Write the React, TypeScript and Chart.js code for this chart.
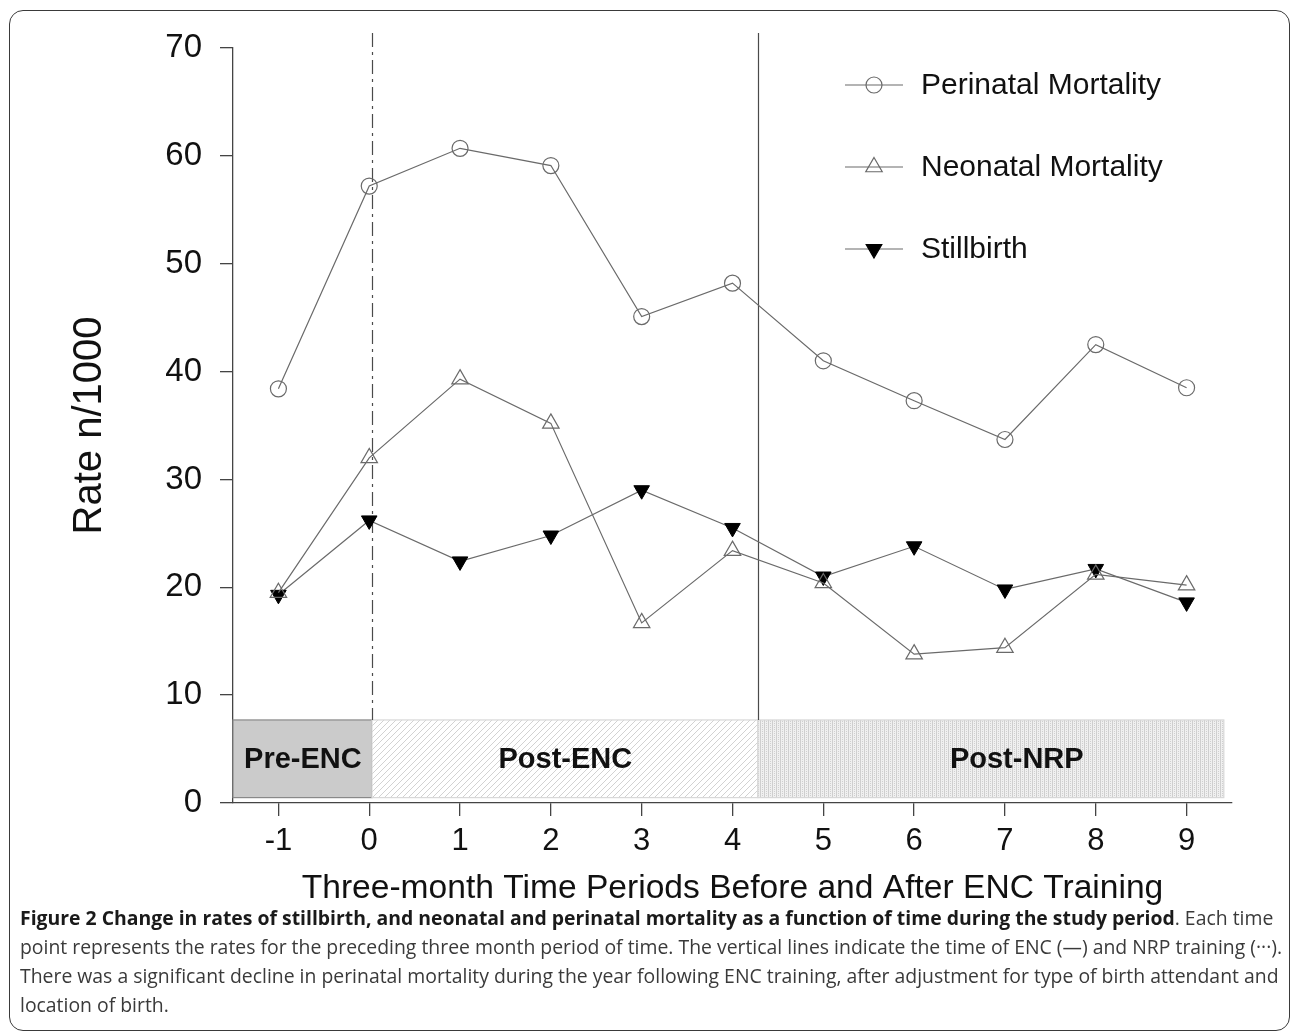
import React, { useEffect, useRef } from "react";
import { Chart, registerables } from "chart.js";

Chart.register(...registerables);

// ---- data ----
const periods = [-1, 0, 1, 2, 3, 4, 5, 6, 7, 8, 9];
const perinatal = [38.4, 57.2, 60.7, 59.1, 45.1, 48.2, 41.0, 37.3, 33.7, 42.5, 38.5];
const neonatal = [19.5, 32.0, 39.3, 35.2, 16.7, 23.4, 20.4, 13.8, 14.4, 21.2, 20.2];
const stillbirth = [19.3, 26.2, 22.4, 24.8, 29.0, 25.5, 21.0, 23.8, 19.8, 21.7, 18.6];
const seriesNames = ["Perinatal Mortality", "Neonatal Mortality", "Stillbirth"];
const yTicks = [0, 10, 20, 30, 40, 50, 60, 70];
const xTicks = [-1, 0, 1, 2, 3, 4, 5, 6, 7, 8, 9];
const phaseLabels = ["Pre-ENC", "Post-ENC", "Post-NRP"];
const phaseBounds = [-1.5, 0.03, 4.28, 9.41];
const phaseLabelX = [-0.73, 2.16, 7.13];
const bandRange = [0.5, 7.7];
const trainingLines = [0.03, 4.28];
const trainingLineTop = 71.4;
const xTitle = "Three-month Time Periods Before and After ENC Training";
const yTitle = "Rate n/1000";
const captionBold = "Figure 2 Change in rates of stillbirth, and neonatal and perinatal mortality as a function of time during the study period";
const captionLines = [
  ". Each time",
  "point represents the rates for the preceding three month period of time. The vertical lines indicate the time of ENC (\u2014) and NRP training (\u00b7\u00b7\u00b7).",
  "There was a significant decline in perinatal mortality during the year following ENC training, after adjustment for type of birth attendant and",
  "location of birth.",
];

const FONT = '"Liberation Sans", Arial, Helvetica, sans-serif';
const LINE = "#6a6a6a";

function makeHatch(): CanvasPattern | string {
  const c = document.createElement("canvas");
  c.width = 6; c.height = 6;
  const g = c.getContext("2d");
  if (!g) return "#f2f2f2";
  g.fillStyle = "#ffffff"; g.fillRect(0, 0, 6, 6);
  g.strokeStyle = "#d2d2d2"; g.lineWidth = 1;
  g.beginPath();
  g.moveTo(-1, 7); g.lineTo(7, -1);
  g.moveTo(-1, 1); g.lineTo(1, -1);
  g.moveTo(5, 7); g.lineTo(7, 5);
  g.stroke();
  return g.createPattern(c, "repeat") || "#f2f2f2";
}

function makeDots(): CanvasPattern | string {
  const c = document.createElement("canvas");
  c.width = 4; c.height = 4;
  const g = c.getContext("2d");
  if (!g) return "#e6e6e6";
  g.fillStyle = "#f0f0f0"; g.fillRect(0, 0, 4, 4);
  g.fillStyle = "#cfcfcf";
  g.fillRect(0, 0, 1, 4);
  g.fillRect(2, 1, 1, 1);
  g.fillRect(2, 3, 1, 1);
  return g.createPattern(c, "repeat") || "#e6e6e6";
}

function drawMarker(ctx: CanvasRenderingContext2D, kind: number, x: number, y: number) {
  ctx.save();
  ctx.lineWidth = 1.2;
  ctx.strokeStyle = LINE;
  ctx.beginPath();
  if (kind === 0) {
    ctx.arc(x, y, 8, 0, Math.PI * 2);
    ctx.stroke();
  } else if (kind === 1) {
    const r = 9.5;
    ctx.moveTo(x, y - r);
    ctx.lineTo(x + r * Math.sin((2 * Math.PI) / 3), y - r * Math.cos((2 * Math.PI) / 3));
    ctx.lineTo(x + r * Math.sin((4 * Math.PI) / 3), y - r * Math.cos((4 * Math.PI) / 3));
    ctx.closePath();
    ctx.stroke();
  } else {
    const r = 9;
    ctx.fillStyle = "#000";
    ctx.strokeStyle = "#000";
    ctx.moveTo(x, y + r);
    ctx.lineTo(x + r * Math.sin((2 * Math.PI) / 3), y + r * Math.cos((2 * Math.PI) / 3));
    ctx.lineTo(x + r * Math.sin((4 * Math.PI) / 3), y + r * Math.cos((4 * Math.PI) / 3));
    ctx.closePath();
    ctx.fill();
    ctx.stroke();
  }
  ctx.restore();
}

const overlayPlugin = {
  id: "overlay",
  beforeDatasetsDraw(chart: any) {
    const { ctx, scales } = chart;
    const x = scales.x;
    const y = scales.y;
    const yTop = y.getPixelForValue(bandRange[1]);
    const yBot = y.getPixelForValue(bandRange[0]);
    const fills: (string | CanvasPattern)[] = ["#cbcbcb", makeHatch(), makeDots()];
    const borders = ["#8a8a8a", "#d8d8d8", "#d8d8d8"];
    ctx.save();
    for (let i = 0; i < 3; i++) {
      const x0 = x.getPixelForValue(phaseBounds[i]);
      const x1 = x.getPixelForValue(phaseBounds[i + 1]);
      ctx.fillStyle = fills[i];
      ctx.fillRect(x0, yTop, x1 - x0, yBot - yTop);
      ctx.strokeStyle = borders[i];
      ctx.lineWidth = 1.2;
      ctx.strokeRect(x0, yTop, x1 - x0, yBot - yTop);
    }
    ctx.fillStyle = "#111";
    ctx.font = `bold 29px ${FONT}`;
    ctx.textAlign = "center";
    ctx.textBaseline = "middle";
    for (let i = 0; i < 3; i++) {
      ctx.fillText(phaseLabels[i], x.getPixelForValue(phaseLabelX[i]), (yTop + yBot) / 2 + 1);
    }
    // training lines
    const lt = y.getPixelForValue(trainingLineTop);
    ctx.strokeStyle = "#4a4a4a";
    ctx.lineWidth = 1.2;
    trainingLines.forEach((v, i) => {
      const px = Math.round(x.getPixelForValue(v)) + 0.5;
      ctx.setLineDash(i === 0 ? [14, 5, 3, 5] : []);
      ctx.beginPath();
      ctx.moveTo(px, lt);
      ctx.lineTo(px, yTop);
      ctx.stroke();
    });
    ctx.setLineDash([]);
    ctx.restore();
  },
  afterDraw(chart: any) {
    const { ctx } = chart;
    const rows = [85, 167, 249];
    ctx.save();
    for (let i = 0; i < 3; i++) {
      const ly = rows[i];
      ctx.strokeStyle = LINE;
      ctx.lineWidth = 1.2;
      ctx.beginPath();
      ctx.moveTo(845, ly);
      ctx.lineTo(903, ly);
      ctx.stroke();
      drawMarker(ctx, i, 874, ly);
      ctx.fillStyle = "#111";
      ctx.font = `30px ${FONT}`;
      ctx.textAlign = "left";
      ctx.textBaseline = "middle";
      ctx.fillText(seriesNames[i], 921, ly + 1);
    }
    ctx.restore();
  },
};

export default function App() {
  const ref = useRef<HTMLCanvasElement>(null);

  useEffect(() => {
    if (!ref.current) return;
    const pts = (arr: number[]) => periods.map((p, i) => ({ x: p, y: arr[i] }));
    const chart = new Chart(ref.current, {
      type: "line",
      data: {
        datasets: [
          {
            label: seriesNames[0],
            data: pts(perinatal),
            borderColor: LINE,
            borderWidth: 1.2,
            pointStyle: "circle",
            pointRadius: 8,
            pointBorderColor: LINE,
            pointBorderWidth: 1.2,
            pointBackgroundColor: "rgba(0,0,0,0)",
            tension: 0,
          },
          {
            label: seriesNames[1],
            data: pts(neonatal),
            borderColor: LINE,
            borderWidth: 1.2,
            pointStyle: "triangle",
            pointRadius: 9.5,
            pointBorderColor: LINE,
            pointBorderWidth: 1.2,
            pointBackgroundColor: "rgba(0,0,0,0)",
            tension: 0,
          },
          {
            label: seriesNames[2],
            data: pts(stillbirth),
            borderColor: LINE,
            borderWidth: 1.2,
            pointStyle: "triangle",
            pointRotation: 180,
            pointRadius: 9,
            pointBorderColor: "#000",
            pointBorderWidth: 1,
            pointBackgroundColor: "#000",
            tension: 0,
          },
        ],
      },
      options: {
        animation: false,
        responsive: false,
        devicePixelRatio: 1,
        events: [],
        layout: { padding: { top: 48, right: 60, left: 0, bottom: 0 } },
        plugins: { legend: { display: false }, tooltip: { enabled: false } },
        scales: {
          x: {
            type: "linear",
            min: -1.5,
            max: 9.5,
            afterBuildTicks: (s: any) => {
              s.ticks = xTicks.map((v) => ({ value: v }));
            },
            afterFit: (s: any) => {
              s.height = 117;
            },
            ticks: {
              autoSkip: false,
              maxRotation: 0,
              padding: 7,
              color: "#111",
              font: { family: FONT, size: 31 },
              callback: (v: any) => String(v),
            },
            grid: { drawOnChartArea: false, drawTicks: true, tickLength: 13, color: "#444", lineWidth: 1.3 },
            border: { display: true, color: "#444", width: 1.3 },
            title: {
              display: true,
              text: xTitle,
              color: "#111",
              font: { family: FONT, size: 33.6 },
              padding: { top: 0, bottom: 11 },
            },
          },
          y: {
            type: "linear",
            min: 0,
            max: 70,
            afterBuildTicks: (s: any) => {
              s.ticks = yTicks.map((v) => ({ value: v }));
            },
            afterFit: (s: any) => {
              s.width = 233;
            },
            ticks: {
              padding: 18,
              color: "#111",
              font: { family: FONT, size: 33 },
            },
            grid: { drawOnChartArea: false, drawTicks: true, tickLength: 13, color: "#444", lineWidth: 1.3 },
            border: { display: true, color: "#444", width: 1.3 },
            title: {
              display: true,
              text: yTitle,
              color: "#111",
              font: { family: FONT, size: 40 },
              padding: { top: 66, bottom: 0 },
            },
          },
        },
      },
      plugins: [overlayPlugin],
    });
    return () => chart.destroy();
  }, []);

  return (
    <div
      style={{
        position: "fixed",
        left: 0,
        top: 0,
        width: 1292,
        height: 1033,
        overflow: "hidden",
        background: "#fff",
      }}
    >
      <div
        style={{
          position: "absolute",
          left: 9,
          top: 10,
          width: 1281,
          height: 1021,
          boxSizing: "border-box",
          border: "1.5px solid #3a3a3a",
          borderRadius: 14,
        }}
      />
      <canvas
        ref={ref}
        width={1292}
        height={920}
        style={{ position: "absolute", left: 0, top: 0, width: 1292, height: 920 }}
      />
      <div
        style={{
          position: "absolute",
          left: 20,
          top: 903,
          fontFamily: '"Open Sans", "Noto Sans", sans-serif',
          fontSize: 19.4,
          lineHeight: "29px",
          color: "#3a3a3a",
          whiteSpace: "nowrap",
        }}
      >
        <div>
          <span style={{ fontWeight: 700, color: "#1a1a1a" }}>{captionBold}</span>
          {captionLines[0]}
        </div>
        <div>{captionLines[1]}</div>
        <div>{captionLines[2]}</div>
        <div>{captionLines[3]}</div>
      </div>
    </div>
  );
}
